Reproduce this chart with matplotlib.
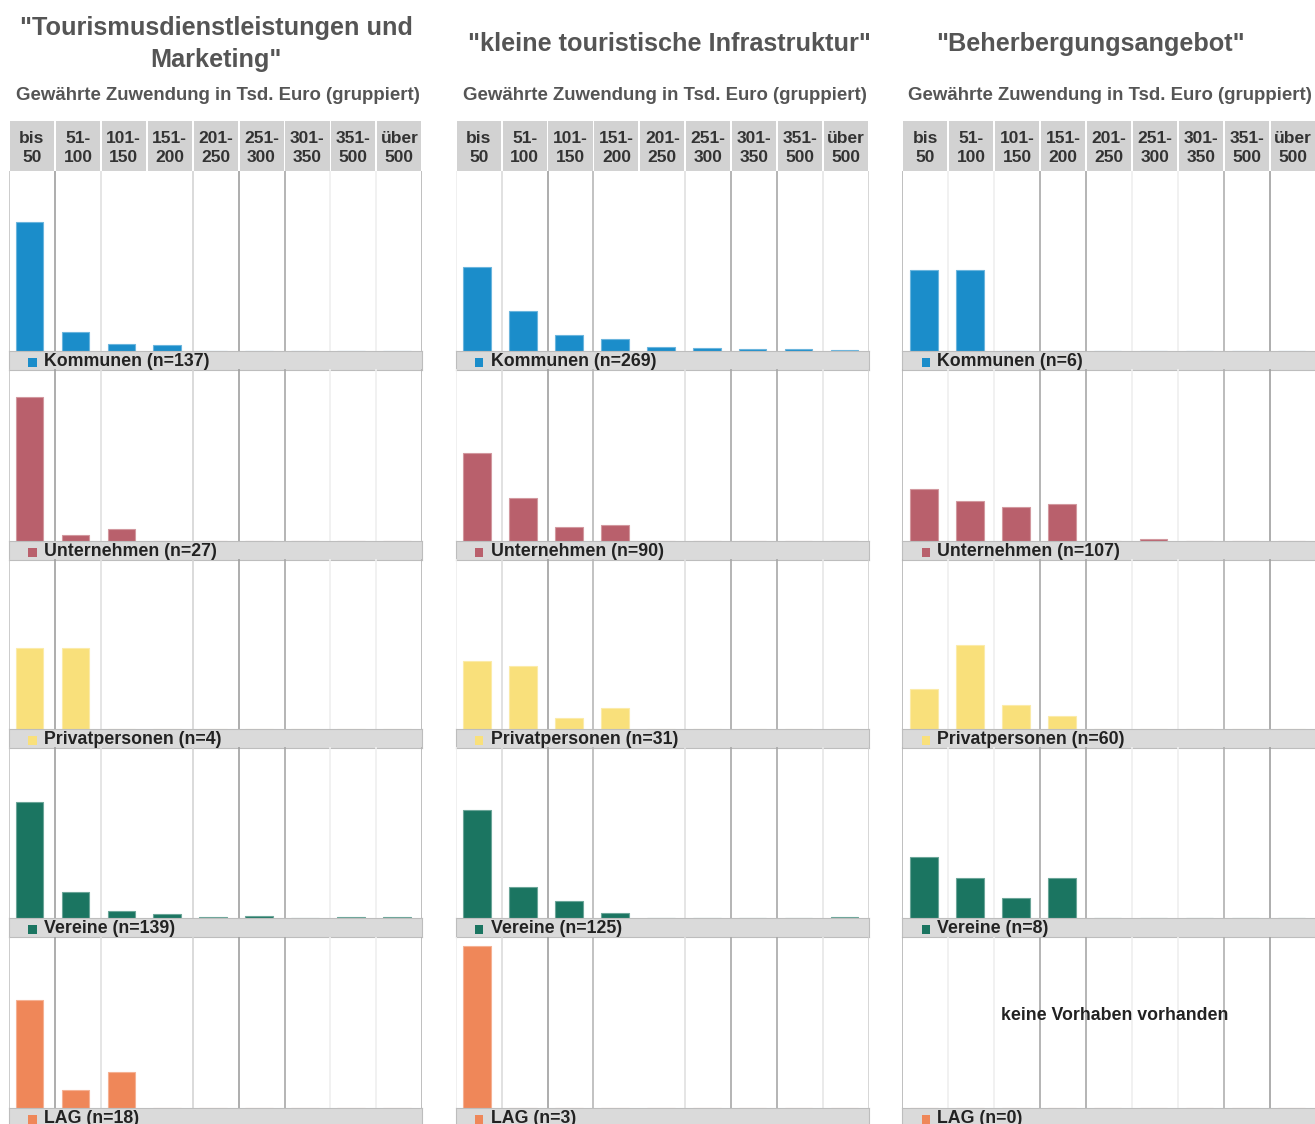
import matplotlib
matplotlib.use("Agg")
import matplotlib.pyplot as plt
from matplotlib.patches import Rectangle

plt.rcParams['font.family'] = ['Liberation Sans', 'DejaVu Sans']

W, H = 1315, 1124

# amount groups (thousand euro)
categories = ["bis\n50", "51-\n100", "101-\n150", "151-\n200", "201-\n250",
              "251-\n300", "301-\n350", "351-\n500", "über\n500"]
groups = ["Kommunen", "Unternehmen", "Privatpersonen", "Vereine", "LAG"]
group_colors = ["#1b8dca", "#b9606c", "#f9e07b", "#1b7561", "#ef8759"]

titles = ['"Tourismusdienstleistungen und\nMarketing"',
          '"kleine touristische Infrastruktur"',
          '"Beherbergungsangebot"']
subtitle = "Gewährte Zuwendung in Tsd. Euro (gruppiert)"
empty_note = "keine Vorhaben vorhanden"

# share of projects per amount group, in percent
n_tourismus = [137, 27, 4, 139, 18]
pct_tourismus = [
    [79.6, 11.7, 4.5, 4.0, 0, 0, 0, 0, 0],
    [88.9, 3.7, 7.4, 0, 0, 0, 0, 0, 0],
    [50.0, 50.0, 0, 0, 0, 0, 0, 0, 0],
    [71.8, 16.0, 4.5, 2.5, 0.8, 1.4, 0, 0.8, 0.8],
    [66.7, 11.1, 22.2, 0, 0, 0, 0, 0, 0],
]

n_infra = [269, 90, 31, 125, 3]
pct_infra = [
    [52.0, 24.7, 9.7, 7.2, 2.5, 1.6, 1.0, 1.0, 0.6],
    [54.4, 26.7, 8.9, 10.0, 0, 0, 0, 0, 0],
    [41.9, 38.7, 6.5, 12.9, 0, 0, 0, 0, 0],
    [66.4, 19.2, 10.4, 3.2, 0, 0, 0, 0, 0.8],
    [100.0, 0, 0, 0, 0, 0, 0, 0, 0],
]

n_beherb = [6, 107, 60, 8, 0]
pct_beherb = [
    [50.0, 50.0, 0, 0, 0, 0, 0, 0, 0],
    [32.0, 24.5, 20.8, 22.9, 0, 1.3, 0, 0, 0],
    [25.0, 51.7, 15.0, 8.3, 0, 0, 0, 0, 0],
    [37.5, 25.0, 12.5, 25.0, 0, 0, 0, 0, 0],
    [0, 0, 0, 0, 0, 0, 0, 0, 0],
]

panel_n = [n_tourismus, n_infra, n_beherb]
panel_pct = [pct_tourismus, pct_infra, pct_beherb]

# layout in pixels
panel_left = [9, 455.7, 902.3]
panel_w = 413.3
col_w = panel_w / len(categories)
bar_shift = [-2.5, -1.5, -1.3]
title_x = [216, 669, 1090]
subtitle_x = [217.5, 664.5, 1110]
row_top = [171, 369, 559, 747, 937]
row_base = [351, 541, 729, 918, 1108]
strip_h = 18.5
px_per_pct = 1.62

# column divider shades, they differ from panel to panel in the original
divider_colors = [
    ['#c4c4c4', '#a0a0a0', '#e0e0e0', 'none', '#d4d4d4', '#a0a0a0', '#a8a8a8', '#efefef', '#efefef', '#b4b4b4'],
    ['#eeeeee', '#dcdcdc', '#a0a0a0', '#b8b8b8', 'none', '#e0e0e0', '#a8a8a8', '#a8a8a8', '#e6e6e6', '#d0d0d0'],
    ['#b4b4b4', '#efefef', '#efefef', '#a8a8a8', '#a8a8a8', '#efefef', '#efefef', '#b0b0b0', '#a0a0a0', 'none'],
]


def px_axes(fig, x, y, w, h):
    return fig.add_axes([x / W, 1 - (y + h) / H, w / W, h / H])


def lighten(c, amount=0.35):
    rgb = matplotlib.colors.to_rgb(c)
    return tuple(v + (1 - v) * amount for v in rgb)


fig = plt.figure(figsize=(W / 100, H / 100), dpi=100)

for p in range(3):
    left = panel_left[p]

    fig.text(title_x[p] / W, 1 - 44 / H, titles[p], ha='center', va='center',
             fontsize=18.2, fontweight='bold', color='#555555', linespacing=1.42)
    fig.text(subtitle_x[p] / W, 1 - 96 / H, subtitle, ha='center', va='center',
             fontsize=13.4, fontweight='bold', color='#555555')

    # header cells
    hax = px_axes(fig, left, 121, panel_w, 50)
    hax.set_xlim(-0.5, len(categories) - 0.5)
    hax.set_ylim(0, 1)
    hax.axis('off')
    for i, cat in enumerate(categories):
        hax.add_patch(Rectangle((i - 0.48, 0), 0.96, 1, color='#d2d2d2', lw=0))
        hax.text(i, 0.46, cat, ha='center', va='center', fontsize=12.5,
                 fontweight='bold', color='#333333', linespacing=1.3)

    for r, grp in enumerate(groups):
        top, base = row_top[r], row_base[r]
        vals = panel_pct[p][r]
        ax = px_axes(fig, left, top, panel_w, base - top)
        ax.set_xlim(-0.5, len(categories) - 0.5)
        ax.set_ylim(0, (base - top) / px_per_pct)
        ax.axis('off')
        for k, dc in enumerate(divider_colors[p]):
            if dc != 'none':
                ax.axvline(k - 0.5, color=dc, lw=1.2, zorder=1)
        xs = [i + bar_shift[p] / col_w for i in range(len(categories))]
        ax.bar(xs, vals, width=0.6, color=group_colors[r],
               edgecolor=lighten(group_colors[r]), linewidth=0.8, zorder=2)
        if sum(vals) == 0:
            ax.text(0.514, 0.54, empty_note, transform=ax.transAxes,
                    ha='center', va='center', fontsize=12.8, fontweight='bold',
                    color='#222222')

        # label strip below the bars
        sax = px_axes(fig, left, base, panel_w, strip_h)
        sax.set_xlim(0, panel_w)
        sax.set_ylim(0, strip_h)
        sax.set_facecolor('#dadada')
        sax.set_xticks([])
        sax.set_yticks([])
        for sp in sax.spines.values():
            sp.set_color('#bdbdbd')
            sp.set_linewidth(0.8)
        sax.add_patch(Rectangle((19.3, 2.8), 8.4, 8.4, color=group_colors[r], lw=0))
        sax.text(35, 3.6, f"{grp} (n={panel_n[p][r]})", ha='left', va='baseline',
                 fontsize=12.8, fontweight='bold', color='#222222')

fig.savefig("out.png", dpi=100)
